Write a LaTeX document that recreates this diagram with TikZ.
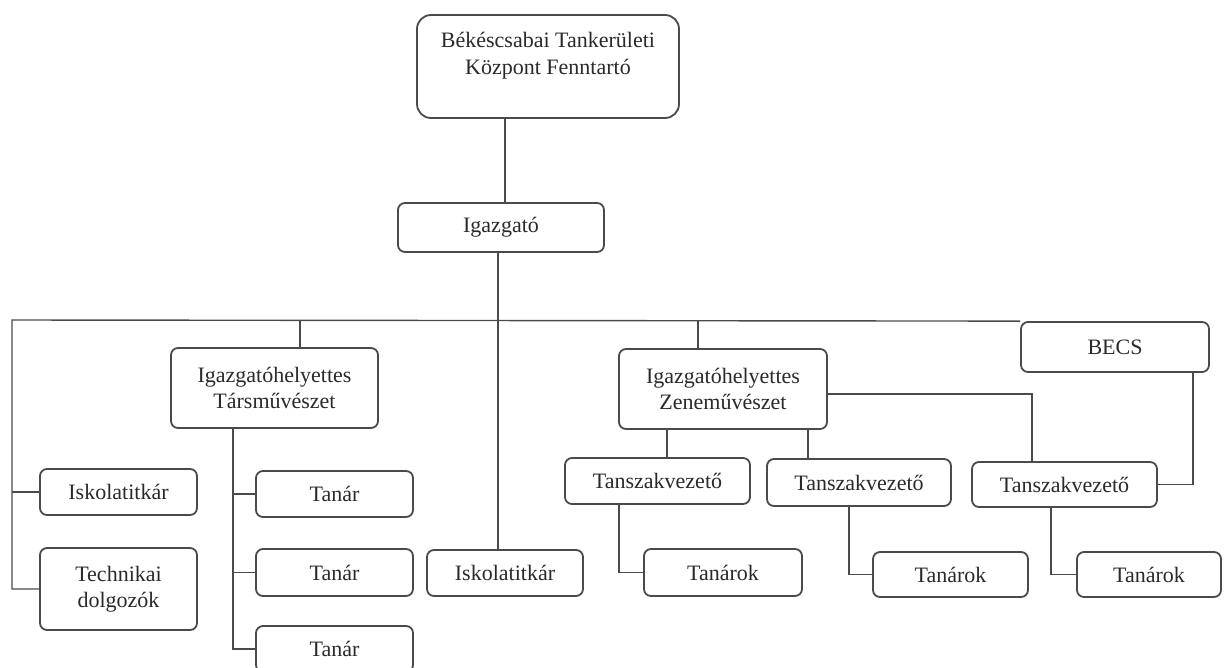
\documentclass[tikz,border=0pt]{standalone}
\usepackage{fontspec}
\setmainfont{Liberation Serif}
\definecolor{linec}{HTML}{4A4A4A}
\definecolor{textc}{HTML}{2A2A2A}
\tikzset{
  orgbox/.style={draw=linec, line width=1.8pt, rounded corners=7pt, text=textc,
    font=\fontsize{22}{25.5}\selectfont, inner sep=0pt, align=center},
  conn/.style={draw=linec, line width=1.4pt}
}
\begin{document}
\begin{tikzpicture}[x=1pt,y=-1pt]
\fill[white] (0,0) rectangle (1225,667);
\clip (0,0) rectangle (1225,667);
% nodes
\node[orgbox, rounded corners=14pt, minimum width=262pt, minimum height=103pt, font=\fontsize{22}{27}\selectfont] (top) at (548,66.5) {Békéscsabai Tankerületi\\Központ Fenntartó\\\mbox{}};
\node[orgbox, minimum width=206pt, minimum height=49pt] (igz) at (501,227.5) {Igazgató};
\node[orgbox, minimum width=207pt, minimum height=80pt] (ths) at (274.5,388) {Igazgatóhelyettes\\Társművészet};
\node[orgbox, minimum width=208pt, minimum height=80pt] (zen) at (723,389) {Igazgatóhelyettes\\Zeneművészet};
\node[orgbox, minimum width=188pt, minimum height=50pt] (becs) at (1115,347) {BECS};
\node[orgbox, minimum width=157pt, minimum height=46pt] (isk1) at (118.5,492) {Iskolatitkár};
\node[orgbox, minimum width=157pt, minimum height=82pt] (tech) at (118.5,589) {Technikai\\dolgozók};
\node[orgbox, minimum width=157pt, minimum height=46pt] (tan1) at (334.5,494) {Tanár};
\node[orgbox, minimum width=157pt, minimum height=47pt] (tan2) at (334.5,572.5) {Tanár};
\node[orgbox, minimum width=157pt, minimum height=46pt] (tan3) at (334.5,649) {Tanár};
\node[orgbox, minimum width=156pt, minimum height=46pt] (isk2) at (505,573) {Iskolatitkár};
\node[orgbox, minimum width=185pt, minimum height=46pt] (tsz1) at (657.5,481) {Tanszakvezető};
\node[orgbox, minimum width=184pt, minimum height=47pt] (tsz2) at (859,482.5) {Tanszakvezető};
\node[orgbox, minimum width=185pt, minimum height=45pt] (tsz3) at (1064.5,484.5) {Tanszakvezető};
\node[orgbox, minimum width=158pt, minimum height=47pt] (tk1) at (723,572.5) {Tanárok};
\node[orgbox, minimum width=155pt, minimum height=45pt] (tk2) at (950.5,574.5) {Tanárok};
\node[orgbox, minimum width=144pt, minimum height=45pt] (tk3) at (1149,574.5) {Tanárok};
% helper coordinates
\coordinate (busL) at (12,320);
\coordinate (c505) at (505,0);
\coordinate (c498) at (498,0);
\coordinate (c300) at (300,0);
\coordinate (c698) at (698,0);
\coordinate (c233) at (233,0);
\coordinate (c667) at (667,0);
\coordinate (c808) at (808,0);
\coordinate (c1032) at (1032,0);
\coordinate (c1193) at (1193,0);
\coordinate (c619) at (619,0);
\coordinate (c849) at (849,0);
\coordinate (c1051) at (1051,0);
% connectors
\draw[conn] (top.south -| c505) -- (igz.north -| c505);
\draw[conn] (igz.south -| c498) -- (isk2.north -| c498);
\draw[conn] (tech.west) -| (busL) -- (becs.north west);
\draw[conn] (isk1.west) -- (isk1.west -| busL);
\draw[conn] (busL -| c300) -- (ths.north -| c300);
\draw[conn] (busL -| c698) -- (zen.north -| c698);
\draw[conn] (ths.south -| c233) |- (tan3.west);
\draw[conn] (tan1.west) -- (tan1.west -| c233);
\draw[conn] (tan2.west) -- (tan2.west -| c233);
\draw[conn] (zen.south -| c667) -- (tsz1.north -| c667);
\draw[conn] (zen.south -| c808) -- (tsz2.north -| c808);
\draw[conn] ([yshift=-5pt]zen.east) -| (tsz3.north -| c1032);
\draw[conn] (becs.south -| c1193) |- (tsz3.east);
\draw[conn] (tsz1.south -| c619) |- (tk1.west);
\draw[conn] (tsz2.south -| c849) |- (tk2.west);
\draw[conn] (tsz3.south -| c1051) |- (tk3.west);
\end{tikzpicture}
\end{document}
